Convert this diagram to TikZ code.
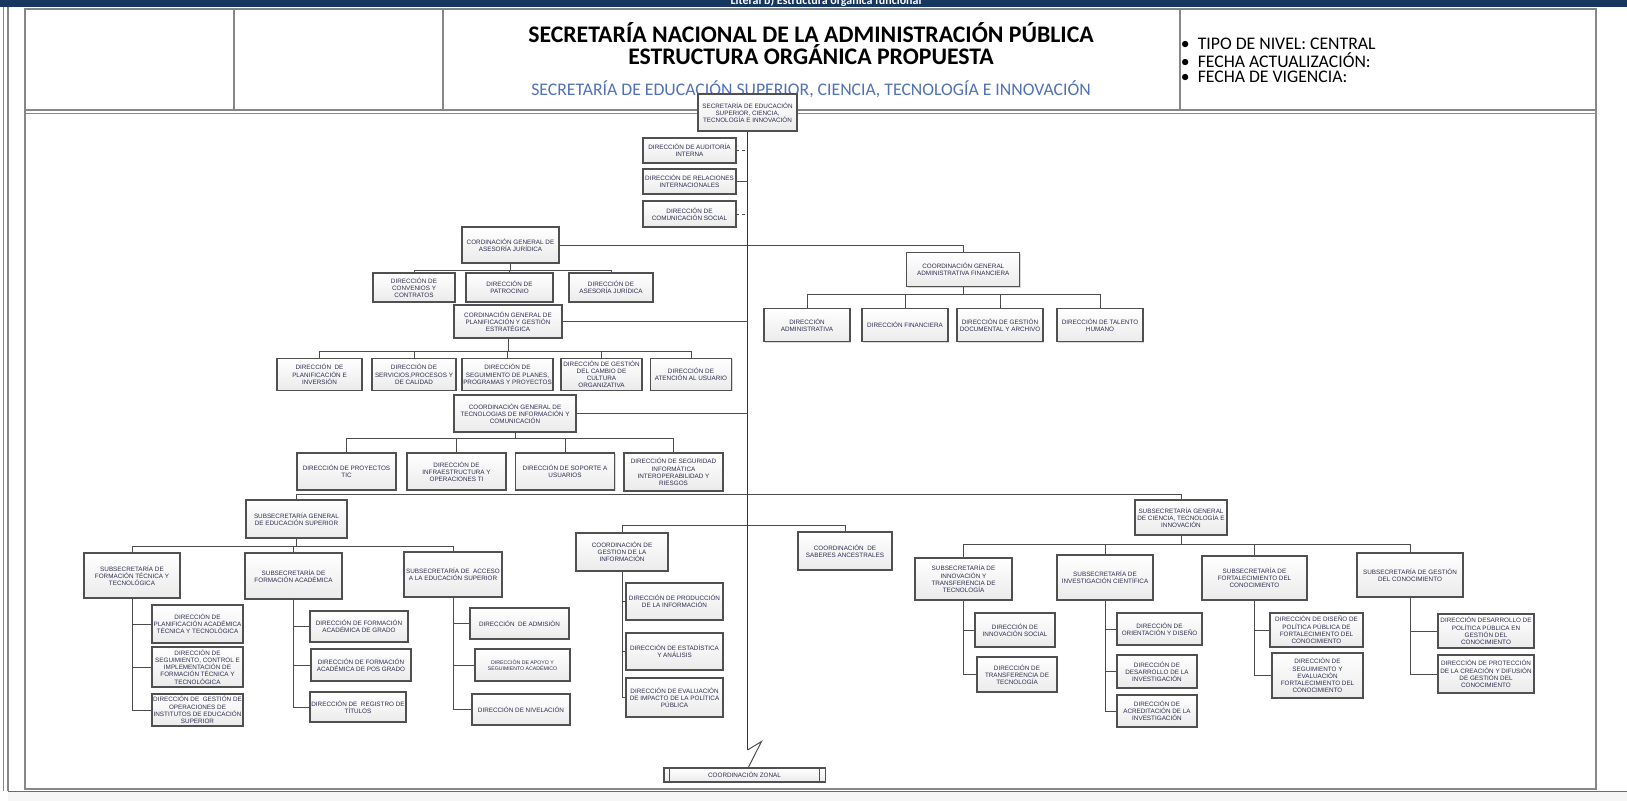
\documentclass[tikz,border=0pt]{standalone}
\usepackage{fontspec}
\setmainfont{Carlito}
\newfontfamily\boxfont{Liberation Sans}
\usetikzlibrary{shadows}
\definecolor{navybar}{RGB}{23,55,94}
\definecolor{framegray}{RGB}{135,135,135}
\definecolor{boxline}{RGB}{80,80,80}
\definecolor{boxtext}{RGB}{45,45,80}
\definecolor{subblue}{RGB}{80,112,184}
\definecolor{baseblue}{RGB}{79,110,170}

\begin{document}
\begin{tikzpicture}[x=0.025cm,y=-0.025cm,
  box/.style={draw=boxline,line width=0.75pt,top color=white,bottom color=gray!16,
    drop shadow={shadow xshift=0.7pt,shadow yshift=-0.7pt,opacity=0.3},
    align=center,inner sep=0pt,text=boxtext,font=\boxfont\fontsize{4.5}{5.1}\selectfont},
  link/.style={draw=black!70,line width=0.7pt},
  trunk/.style={draw=black!80,line width=1.4pt},
  frame/.style={draw=framegray,line width=0.9pt}]
\useasboundingbox (0,0) rectangle (1627,801);

% frame and header
\fill[navybar] (0,0) rectangle (1627,7);
\node[text=white,font=\bfseries\fontsize{8.5}{9}\selectfont,anchor=base] (bar) at (826,5) {Literal b) Estructura orgánica funcional};
\path[frame] (3.5,7) -- (3.5,791);
\path[frame] (8,7) -- (8,791);
\path[frame] (25,9) rectangle (1596,789);
\path[frame] (234,9) -- (234,110);
\path[frame] (443,9) -- (443,110);
\path[frame] (1180,9) -- (1180,110);
\path[frame] (25,110) -- (1596,110);
\path[frame] (25,113.5) -- (1596,113.5);
\fill[gray!7] (8,792) rectangle (1627,801);
\path[draw=baseblue,line width=1.2pt] (8,791.5) -- (1627,791.5);

\node[font=\bfseries\fontsize{16.9}{18}\selectfont] (title) at (811,32.5) {SECRETARÍA NACIONAL DE LA ADMINISTRACIÓN PÚBLICA};
\node[font=\bfseries\fontsize{16.9}{18}\selectfont] (title2) at (811,54.5) {ESTRUCTURA ORGÁNICA PROPUESTA};
\node[text=subblue,font=\fontsize{12.6}{14}\selectfont] (sub) at (811,89) {SECRETARÍA DE EDUCACIÓN SUPERIOR, CIENCIA, TECNOLOGÍA E INNOVACIÓN};
\node[anchor=west,font=\fontsize{12.6}{14}\selectfont] (nivel) at (1176,43.6) {\textbullet\hspace{0.45em}TIPO DE NIVEL: CENTRAL};
\node[anchor=west,font=\fontsize{12.6}{14}\selectfont] (fecha) at (1176,60.2) {\textbullet\hspace{0.45em}FECHA ACTUALIZACIÓN:};
\node[anchor=west,font=\fontsize{12.6}{14}\selectfont] (vigencia) at (1176,76.8) {\textbullet\hspace{0.45em}FECHA DE VIGENCIA:};

% coordinates on the trunk
\coordinate (t1) at (747.5,750);
\coordinate (t2) at (761.5,741.5);
\coordinate (j5) at (747.5,494);
\coordinate (j6) at (747.5,525);

% boxes
\node[box,line width=1.4pt,minimum width=2.475cm,minimum height=0.925cm] (1) at (747.5,112.5) {SECRETARÍA DE EDUCACIÓN\\SUPERIOR, CIENCIA,\\TECNOLOGÍA E INNOVACIÓN};
\node[box,minimum width=2.325cm,minimum height=0.625cm] (2) at (689.5,150.5) {DIRECCIÓN DE AUDITORÍA\\INTERNA};
\node[box,minimum width=2.325cm,minimum height=0.625cm] (3) at (689.5,181.5) {DIRECCIÓN DE RELACIONES\\INTERNACIONALES};
\node[box,minimum width=2.325cm,minimum height=0.65cm] (4) at (689.5,214) {DIRECCIÓN DE\\COMUNICACIÓN SOCIAL};

\node[box,minimum width=2.425cm,minimum height=0.9cm] (10) at (510.5,245) {CORDINACIÓN GENERAL DE\\ASESORÍA JURÍDICA};
\node[box,minimum width=2.05cm,minimum height=0.725cm] (11) at (414,287.5) {DIRECCIÓN DE\\CONVENIOS Y\\CONTRATOS};
\node[box,minimum width=2.175cm,minimum height=0.725cm] (12) at (509.5,287.5) {DIRECCIÓN DE\\PATROCINIO};
\node[box,minimum width=2.1cm,minimum height=0.725cm] (13) at (611,287.5) {DIRECCIÓN DE\\ASESORÍA JURÍDICA};

\node[box,minimum width=2.825cm,minimum height=0.85cm] (20) at (963.3,269.7) {COORDINACIÓN GENERAL\\ADMINISTRATIVA FINANCIERA};
\node[box,minimum width=2.15cm,minimum height=0.835cm] (21) at (807,325) {DIRECCIÓN\\ADMINISTRATIVA};
\node[box,minimum width=2.15cm,minimum height=0.835cm] (22) at (905,325) {DIRECCIÓN FINANCIERA};
\node[box,minimum width=2.15cm,minimum height=0.835cm] (23) at (1000,325) {DIRECCIÓN DE GESTIÓN\\DOCUMENTAL Y ARCHIVO};
\node[box,minimum width=2.15cm,minimum height=0.835cm] (24) at (1100,325) {DIRECCIÓN DE TALENTO\\HUMANO};

\node[box,minimum width=2.7cm,minimum height=0.825cm] (30) at (508,321.5) {CORDINACIÓN GENERAL DE\\PLANIFICACIÓN Y GESTIÓN\\ESTRATÉGICA};
\node[box,minimum width=2.125cm,minimum height=0.8cm] (31) at (319.5,374.3) {DIRECCIÓN~~DE\\PLANIFICACIÓN E\\INVERSIÓN};
\node[box,minimum width=2.1cm,minimum height=0.8cm] (32) at (414,374.3) {DIRECCIÓN DE\\SERVICIOS,PROCESOS Y\\DE CALIDAD};
\node[box,minimum width=2.275cm,minimum height=0.8cm] (33) at (507.5,374.3) {DIRECCIÓN DE\\SEGUIMIENTO DE PLANES,\\PROGRAMAS Y PROYECTOS};
\node[box,minimum width=2.025cm,minimum height=0.8cm] (34) at (601.5,374.3) {DIRECCIÓN DE GESTIÓN\\DEL CAMBIO DE\\CULTURA\\ORGANIZATIVA};
\node[box,minimum width=2.025cm,minimum height=0.8cm] (35) at (691,374.3) {DIRECCIÓN DE\\ATENCIÓN AL USUARIO};

\node[box,minimum width=3.05cm,minimum height=0.925cm] (40) at (515,413.5) {COORDINACIÓN GENERAL DE\\TECNOLOGIAS DE INFORMACIÓN Y\\COMUNICACIÓN};
\node[box,minimum width=2.475cm,minimum height=0.925cm] (41) at (346.5,471.5) {DIRECCIÓN DE PROYECTOS\\TIC};
\node[box,minimum width=2.475cm,minimum height=0.925cm] (42) at (456.5,471.5) {DIRECCIÓN DE\\INFRAESTRUCTURA Y\\OPERACIONES TI};
\node[box,minimum width=2.475cm,minimum height=0.925cm] (43) at (565,471.5) {DIRECCIÓN DE SOPORTE A\\USUARIOS};
\node[box,minimum width=2.475cm,minimum height=0.95cm] (44) at (673.5,472) {DIRECCIÓN DE SEGURIDAD\\INFORMÁTICA\\INTEROPERABILIDAD Y\\RIESGOS};

\node[box,minimum width=2.525cm,minimum height=0.95cm] (50) at (296.5,519) {SUBSECRETARÍA GENERAL\\DE EDUCACIÓN SUPERIOR};
\node[box,minimum width=2.4cm,minimum height=1.125cm] (51) at (132,575.5) {SUBSECRETARÍA DE\\FORMACIÓN TÉCNICA Y\\TECNOLÓGICA};
\node[box,minimum width=2.425cm,minimum height=1.15cm] (52) at (293.5,576) {SUBSECRETARÍA DE\\FORMACIÓN ACADÉMICA};
\node[box,minimum width=2.45cm,minimum height=1.125cm] (53) at (453,574.5) {SUBSECRETARÍA DE~~ACCESO\\A LA EDUCACIÓN SUPERIOR};
\node[box,minimum width=2.275cm,minimum height=0.95cm] (511) at (197.5,624) {DIRECCIÓN DE\\PLANIFICACIÓN ACADÉMICA\\TÉCNICA Y TECNOLÓGICA};
\node[box,minimum width=2.275cm,minimum height=1.0cm] (512) at (197.5,667) {DIRECCIÓN DE\\SEGUIMIENTO, CONTROL E\\IMPLEMENTACIÓN DE\\FORMACIÓN TÉCNICA Y\\TECNOLÓGICA};
\node[box,minimum width=2.275cm,minimum height=0.8cm] (513) at (197.5,710) {DIRECCIÓN DE~~GESTIÓN DE\\OPERACIONES DE\\INSTITUTOS DE EDUCACIÓN\\SUPERIOR};
\node[box,minimum width=2.45cm,minimum height=0.775cm] (521) at (359,626.5) {DIRECCIÓN DE FORMACIÓN\\ACADÉMICA DE GRADO};
\node[box,minimum width=2.5cm,minimum height=0.8cm] (522) at (361,665) {DIRECCIÓN DE FORMACIÓN\\ACADÉMICA DE POS GRADO};
\node[box,minimum width=2.4cm,minimum height=0.75cm] (523) at (358,707) {DIRECCIÓN DE~~REGISTRO DE\\TÍTULOS};
\node[box,minimum width=2.475cm,minimum height=0.775cm] (531) at (519.5,623.5) {DIRECCIÓN~~DE ADMISIÓN};
\node[box,minimum width=2.375cm,minimum height=0.8cm,font=\boxfont\fontsize{3.7}{4.4}\selectfont] (532) at (522.5,665) {DIRECCIÓN DE APOYO Y\\SEGUIMIENTO ACADÉMICO};
\node[box,minimum width=2.45cm,minimum height=0.775cm] (533) at (521,709.5) {DIRECCIÓN DE NIVELACIÓN};

\node[box,minimum width=2.3cm,minimum height=0.95cm] (70) at (622,552) {COORDINACIÓN DE\\GESTION DE LA\\INFORMACIÓN};
\node[box,minimum width=2.425cm,minimum height=0.925cm] (71) at (674.5,601.5) {DIRECCIÓN DE PRODUCCIÓN\\DE LA INFORMACIÓN};
\node[box,minimum width=2.425cm,minimum height=0.925cm] (72) at (674.5,651.5) {DIRECCIÓN DE ESTADÍSTICA\\Y ANÁLISIS};
\node[box,minimum width=2.425cm,minimum height=0.975cm] (73) at (674.5,697.5) {DIRECCIÓN DE EVALUACIÓN\\DE IMPACTO DE LA POLÍTICA\\PÚBLICA};
\node[box,minimum width=2.35cm,minimum height=0.95cm] (80) at (845,551) {COORDINACIÓN~~DE\\SABERES ANCESTRALES};

\node[box,minimum width=2.3cm,minimum height=0.875cm] (60) at (1181,517.5) {SUBSECRETARÍA GENERAL\\DE CIENCIA, TECNOLOGÍA E\\INNOVACIÓN};
\node[box,minimum width=2.425cm,minimum height=1.05cm] (61) at (963.5,579) {SUBSECRETARÍA DE\\INNOVACIÓN Y\\TRANSFERENCIA DE\\TECNOLOGÍA};
\node[box,minimum width=2.4cm,minimum height=1.125cm] (62) at (1105,577.5) {SUBSECRETARÍA DE\\INVESTIGACIÓN CIENTÍFICA};
\node[box,minimum width=2.625cm,minimum height=1.1cm] (63) at (1254.5,578) {SUBSECRETARÍA DE\\FORTALECIMIENTO DEL\\CONOCIMIENTO};
\node[box,minimum width=2.65cm,minimum height=1.1cm] (64) at (1410,575) {SUBSECRETARÍA DE GESTIÓN\\DEL CONOCIMIENTO};
\node[box,minimum width=2.0cm,minimum height=0.85cm] (611) at (1015,630) {DIRECCIÓN DE\\INNOVACIÓN SOCIAL};
\node[box,minimum width=2.0cm,minimum height=0.875cm] (612) at (1017,674.5) {DIRECCIÓN DE\\TRANSFERENCIA DE\\TECNOLOGÍA};
\node[box,minimum width=2.125cm,minimum height=0.8cm] (621) at (1159.5,629) {DIRECCIÓN DE\\ORIENTACIÓN Y DISEÑO};
\node[box,minimum width=2.0cm,minimum height=0.825cm] (622) at (1157,671.5) {DIRECCIÓN DE\\DESARROLLO DE LA\\INVESTIGACIÓN};
\node[box,minimum width=2.0cm,minimum height=0.8cm] (623) at (1157,711) {DIRECCIÓN DE\\ACREDITACIÓN DE LA\\INVESTIGACIÓN};
\node[box,minimum width=2.325cm,minimum height=0.85cm] (631) at (1316.5,630) {DIRECCIÓN DE DISEÑO DE\\POLÍTICA PÚBLICA DE\\FORTALECIMIENTO DEL\\CONOCIMIENTO};
\node[box,minimum width=2.275cm,minimum height=1.125cm] (632) at (1317.5,675.5) {DIRECCIÓN DE\\SEGUIMIENTO Y\\EVALUACIÓN\\FORTALECIMIENTO DEL\\CONOCIMIENTO};
\node[box,minimum width=2.4cm,minimum height=0.85cm] (641) at (1486,631) {DIRECCIÓN DESARROLLO DE\\POLÍTICA PÚBLICA EN\\GESTIÓN DEL\\CONOCIMIENTO};
\node[box,minimum width=2.4cm,minimum height=0.95cm] (642) at (1486,674) {DIRECCIÓN DE PROTECCIÓN\\DE LA CREACIÓN Y DIFUSIÓN\\DE GESTIÓN DEL\\CONOCIMIENTO};

\node[box,minimum width=4.025cm,minimum height=0.35cm] (90) at (744.5,775) {COORDINACIÓN ZONAL};
\path[draw=boxline,line width=0.6pt] ([xshift=0.15cm]90.north west) -- ([xshift=0.15cm]90.south west);
\path[draw=boxline,line width=0.6pt] ([xshift=-0.15cm]90.north east) -- ([xshift=-0.15cm]90.south east);

% connectors
\path[trunk] (1) -- (t1);
\path[link] (t1) -- (t2) -- (90);
\path[link,dash pattern=on 2pt off 2pt] (2) -- (2 -| 1);
\path[link] (3) -- (3 -| 1);
\path[link,dash pattern=on 2pt off 2pt] (4) -- (4 -| 1);

\path[link] (10) -- (10 -| 1);
\path[link] (10 -| 1) -| (20);
\path[link] (10.south) -- ++(0,7) -| (11);
\path[link] (10.south) -- ++(0,7) -| (12);
\path[link] (10.south) -- ++(0,7) -| (13);

\path[link] (20.south) -- ++(0,7.3) -| (21);
\path[link] (20.south) -- ++(0,7.3) -| (22);
\path[link] (20.south) -- ++(0,7.3) -| (23);
\path[link] (20.south) -- ++(0,7.3) -| (24);

\path[link] (30) -- (30 -| 1);
\path[link] (30.south) -- ++(0,12.5) -| (31);
\path[link] (30.south) -- ++(0,12.5) -| (32);
\path[link] (30.south) -- ++(0,12.5) -| (33);
\path[link] (30.south) -- ++(0,12.5) -| (34);
\path[link] (30.south) -- ++(0,12.5) -| (35);

\path[link] (40) -- (40 -| 1);
\path[link] (40.south) -- ++(0,5.5) -| (41);
\path[link] (40.south) -- ++(0,5.5) -| (42);
\path[link] (40.south) -- ++(0,5.5) -| (43);
\path[link] (40.south) -- ++(0,5.5) -| (44);

\path[link] (j5) -| (50);
\path[link] (j5) -| (60);
\path[link] (50.south) -- ++(0,8) -| (51);
\path[link] (50.south) -- ++(0,8) -| (52);
\path[link] (50.south) -- ++(0,8) -| (53);
\path[link] (51) |- (511);
\path[link] (51) |- (512);
\path[link] (51) |- (513);
\path[link] (52) |- (521);
\path[link] (52) |- (522);
\path[link] (52) |- (523);
\path[link] (53) |- (531);
\path[link] (53) |- (532);
\path[link] (53) |- (533);

\path[link] (j6) -| (70);
\path[link] (j6) -| (80);
\path[link] (70) |- (71);
\path[link] (70) |- (72);
\path[link] (70) |- (73);

\path[link] (60.south) -- ++(0,9) -| (61);
\path[link] (60.south) -- ++(0,9) -| (62);
\path[link] (60.south) -- ++(0,9) -| (63);
\path[link] (60.south) -- ++(0,9) -| (64);
\path[link] (61) |- (611);
\path[link] (61) |- (612);
\path[link] (62) |- (621);
\path[link] (62) |- (622);
\path[link] (62) |- (623);
\path[link] (63) |- (631);
\path[link] (63) |- (632);
\path[link] (64) |- (641);
\path[link] (64) |- (642);
\end{tikzpicture}
\end{document}
